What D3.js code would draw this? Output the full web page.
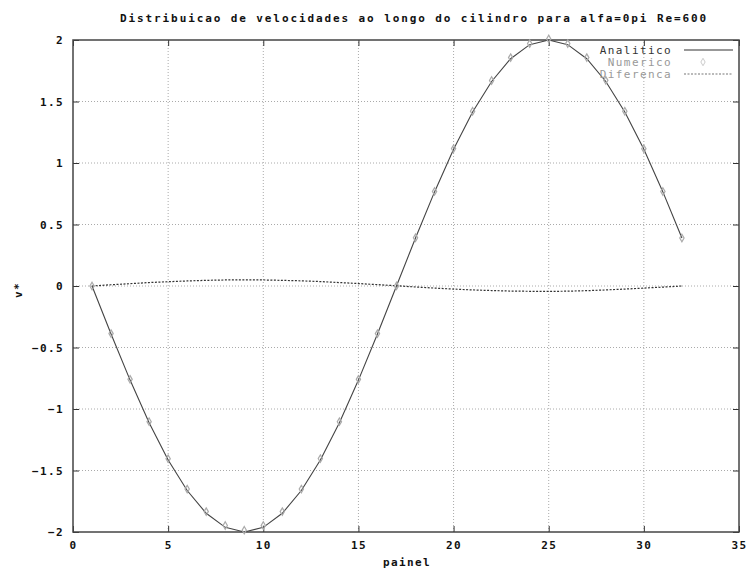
<!DOCTYPE html>
<html>
<head>
<meta charset="utf-8">
<script src="https://cdn.jsdelivr.net/npm/d3@7"></script>
<style>
    body { margin: 0; background: #fff; }
    text { font-family: "DejaVu Sans Mono", monospace; font-weight: bold; fill: #111; }
</style>
</head>
<body>
<div id="chart"></div>
<script>
// Data (panel index 1..32)
const panels = [1, 2, 3, 4, 5, 6, 7, 8, 9, 10, 11, 12, 13, 14, 15, 16,
    17, 18, 19, 20, 21, 22, 23, 24, 25, 26, 27, 28, 29, 30, 31, 32];

const analitico = [0.000, -0.390, -0.765, -1.111, -1.414, -1.663, -1.848, -1.962,
    -2.000, -1.962, -1.848, -1.663, -1.414, -1.111, -0.765, -0.390,
    0.000, 0.390, 0.765, 1.111, 1.414, 1.663, 1.848, 1.962,
    2.000, 1.962, 1.848, 1.663, 1.414, 1.111, 0.765, 0.390];

const numerico = [0.000, -0.387, -0.759, -1.103, -1.404, -1.651, -1.834, -1.947,
    -1.985, -1.947, -1.834, -1.651, -1.403, -1.103, -0.759, -0.387,
    0.001, 0.392, 0.769, 1.117, 1.421, 1.671, 1.857, 1.971,
    2.009, 1.971, 1.857, 1.672, 1.421, 1.116, 0.768, 0.390];

const diferenca = [0.000, 0.010, 0.019, 0.028, 0.035, 0.041, 0.046, 0.049,
    0.050, 0.049, 0.046, 0.042, 0.036, 0.028, 0.020, 0.011,
    0.002, -0.008, -0.017, -0.025, -0.032, -0.037, -0.041, -0.043,
    -0.044, -0.042, -0.038, -0.032, -0.025, -0.017, -0.009, 0.000];

const xTicks = [0, 5, 10, 15, 20, 25, 30, 35];
const yTicks = [-2, -1.5, -1, -0.5, 0, 0.5, 1, 1.5, 2];

const width = 753, height = 569;
const margin = { left: 73, right: 14, top: 40, bottom: 37 };

const svg = d3.select('#chart')
    .append('svg')
    .attr('width', width)
    .attr('height', height);

const x = d3.scaleLinear().domain([0, 35]).range([margin.left, width - margin.right]);
const y = d3.scaleLinear().domain([-2, 2]).range([height - margin.bottom, margin.top]);

// Grid (dotted)
svg.append('g')
    .selectAll('line')
    .data(xTicks.slice(1, -1))
    .enter()
    .append('line')
    .attr('x1', d => x(d)).attr('x2', d => x(d))
    .attr('y1', y(-2)).attr('y2', y(2))
    .style('stroke', '#aaa')
    .style('stroke-dasharray', '1,2');

svg.append('g')
    .selectAll('line')
    .data(yTicks.slice(1, -1))
    .enter()
    .append('line')
    .attr('x1', x(0)).attr('x2', x(35))
    .attr('y1', d => y(d)).attr('y2', d => y(d))
    .style('stroke', '#aaa')
    .style('stroke-dasharray', '1,2');

// Axes: ticks inward on all four sides, labels on bottom and left
const tickLen = 6;
const bottomAxis = d3.axisBottom(x).tickValues(xTicks).tickSize(-tickLen).tickPadding(9).tickFormat(d3.format('d'));
const topAxis = d3.axisTop(x).tickValues(xTicks).tickSize(-tickLen).tickFormat('');
const leftAxis = d3.axisLeft(y).tickValues(yTicks).tickSize(-tickLen).tickPadding(9).tickFormat(d => d3.format('')(d));
const rightAxis = d3.axisRight(y).tickValues(yTicks).tickSize(-tickLen).tickFormat('');

function styleAxis(g) {
    g.select('.domain').remove();
    g.selectAll('.tick line').style('stroke', '#333');
    g.selectAll('.tick text')
        .style('font-size', '11px')
        .style('letter-spacing', '1.4px')
        .style('fill', '#111');
}

svg.append('g').attr('transform', `translate(0,${y(-2)})`).call(bottomAxis).call(styleAxis);
svg.append('g').attr('transform', `translate(0,${y(2)})`).call(topAxis).call(styleAxis);
svg.append('g').attr('transform', `translate(${x(0)},0)`).call(leftAxis).call(styleAxis);
svg.append('g').attr('transform', `translate(${x(35)},0)`).call(rightAxis).call(styleAxis);

// Frame
svg.append('rect')
    .attr('x', x(0)).attr('y', y(2))
    .attr('width', x(35) - x(0)).attr('height', y(-2) - y(2))
    .style('fill', 'none')
    .style('stroke', '#444')
    .style('stroke-width', 1.5);

// Series
const line = d3.line()
    .x((d, i) => x(panels[i]))
    .y(d => y(d));

svg.append('path')
    .datum(diferenca)
    .attr('d', line)
    .style('fill', 'none')
    .style('stroke', '#333')
    .style('stroke-width', 1.2)
    .style('stroke-dasharray', '2,1.5');

svg.append('path')
    .datum(analitico)
    .attr('d', line)
    .style('fill', 'none')
    .style('stroke', '#444')
    .style('stroke-width', 1.1);

const diamond = d3.symbol().type(d3.symbolDiamond).size(16);

svg.append('g')
    .selectAll('path')
    .data(numerico)
    .enter()
    .append('path')
    .attr('d', diamond)
    .attr('transform', (d, i) => `translate(${x(panels[i])},${y(d)})`)
    .style('fill', 'none')
    .style('stroke', '#aaa')
    .style('stroke-width', 1.2);

// Legend (top right, inside)
const legendItems = [
    { label: 'Analitico', kind: 'line' },
    { label: 'Numerico', kind: 'point' },
    { label: 'Diferenca', kind: 'dots' }
];

legendItems.forEach((item, i) => {
    const ly = 50 + i * 12;
    svg.append('text')
        .attr('x', 672)
        .attr('y', ly + 4)
        .attr('text-anchor', 'end')
        .style('font-size', '11px')
        .style('letter-spacing', '1.4px')
        .style('font-weight', 'normal')
        .style('fill', item.kind === 'line' ? '#333' : '#999')
        .text(item.label);

    if (item.kind === 'point') {
        svg.append('path')
            .attr('d', diamond)
            .attr('transform', `translate(703,${ly})`)
            .style('fill', 'none')
            .style('stroke', '#ccc');
    } else {
        svg.append('line')
            .attr('x1', 684).attr('x2', 733)
            .attr('y1', ly).attr('y2', ly)
            .style('stroke', item.kind === 'line' ? '#333' : '#777')
            .style('stroke-width', 1.2)
            .style('stroke-dasharray', item.kind === 'dots' ? '2,1.5' : null);
    }
});

// Title and axis labels
svg.append('text')
    .attr('x', 414)
    .attr('y', 22)
    .attr('text-anchor', 'middle')
    .style('font-size', '11px')
    .style('letter-spacing', '1.9px')
    .text('Distribuicao de velocidades ao longo do cilindro para alfa=0pi Re=600');

svg.append('text')
    .attr('x', 407)
    .attr('y', 566)
    .attr('text-anchor', 'middle')
    .style('font-size', '11px')
    .style('letter-spacing', '1.4px')
    .text('painel');

svg.append('text')
    .attr('transform', 'translate(22,290) rotate(-90)')
    .attr('text-anchor', 'middle')
    .style('font-size', '11px')
    .style('letter-spacing', '1.4px')
    .text('v*');
</script>
</body>
</html>
